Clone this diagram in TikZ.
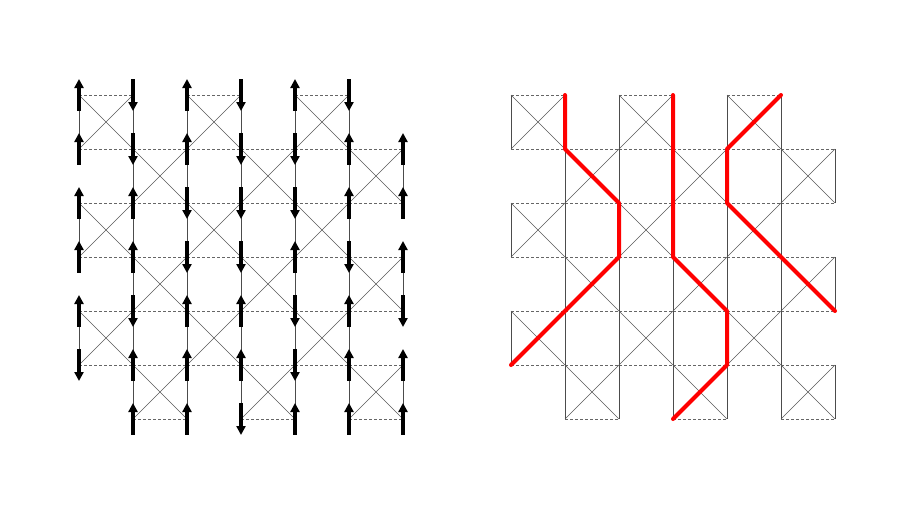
\documentclass[tikz,border=0pt]{standalone}
\usetikzlibrary{arrows.meta}
\begin{document}
\begin{tikzpicture}[x=1pt,y=-1pt,
  vside/.style={draw=black!70,line width=0.7pt},
  hdash/.style={draw=black!60,line width=0.7pt,dash pattern=on 3pt off 2pt},
  diagline/.style={draw=black!65,line width=0.6pt},
  arrowD/.style={line width=3.2pt,-{Triangle[length=9pt,width=9pt]}},
  arrowU/.style={line width=3.2pt,{Triangle[length=9pt,width=9pt]}-},
  redpath/.style={draw={rgb,255:red,255;green,0;blue,0},line width=4pt,line join=round,line cap=round}]
\useasboundingbox (0,0) rectangle (913,514);
% grid vertices
\foreach \p/\xo in {L/79,R/511}{
  \foreach \i in {0,...,6}{
    \foreach \j in {0,...,6}{
      \coordinate (\p-\i-\j) at (\xo+54*\i,95+54*\j);
    }
  }
}
% cells
\foreach \p in {L,R}{
  \foreach \j in {0,...,5}{
    \foreach \k in {0,1,2}{
      \pgfmathtruncatemacro\i{2*\k+mod(\j,2)}
      \pgfmathtruncatemacro\ii{\i+1}
      \pgfmathtruncatemacro\jj{\j+1}
      \path[vside] (\p-\i-\j) -- (\p-\i-\jj) (\p-\ii-\j) -- (\p-\ii-\jj);
      \path[hdash] (\p-\i-\j) -- (\p-\ii-\j) (\p-\i-\jj) -- (\p-\ii-\jj);
      \path[diagline] (\p-\i-\j) -- (\p-\ii-\jj) (\p-\ii-\j) -- (\p-\i-\jj);
    }
  }
}
% arrows on the left panel
\foreach \i/\j/\d in {
  0/0/U,1/0/D,2/0/U,3/0/D,4/0/U,5/0/D,
  0/1/U,1/1/D,2/1/U,3/1/D,4/1/D,5/1/U,6/1/U,
  0/2/U,1/2/U,2/2/D,3/2/D,4/2/D,5/2/U,6/2/U,
  0/3/U,1/3/U,2/3/D,3/3/D,4/3/U,5/3/D,6/3/U,
  0/4/U,1/4/D,2/4/U,3/4/U,4/4/D,5/4/U,6/4/D,
  0/5/D,1/5/U,2/5/U,3/5/U,4/5/D,5/5/U,6/5/U,
  1/6/U,2/6/U,3/6/D,4/6/U,5/6/U,6/6/U}{
  \draw[arrow\d] ([yshift=16pt]L-\i-\j) -- ([yshift=-16pt]L-\i-\j);
}
% red paths on the right panel
\path[redpath] (R-1-0) -- (R-1-1) -- (R-2-2) -- (R-2-3) -- (R-0-5);
\path[redpath] (R-3-0) -- (R-3-3) -- (R-4-4) -- (R-4-5) -- (R-3-6);
\path[redpath] (R-5-0) -- (R-4-1) -- (R-4-2) -- (R-6-4);
\end{tikzpicture}
\end{document}
